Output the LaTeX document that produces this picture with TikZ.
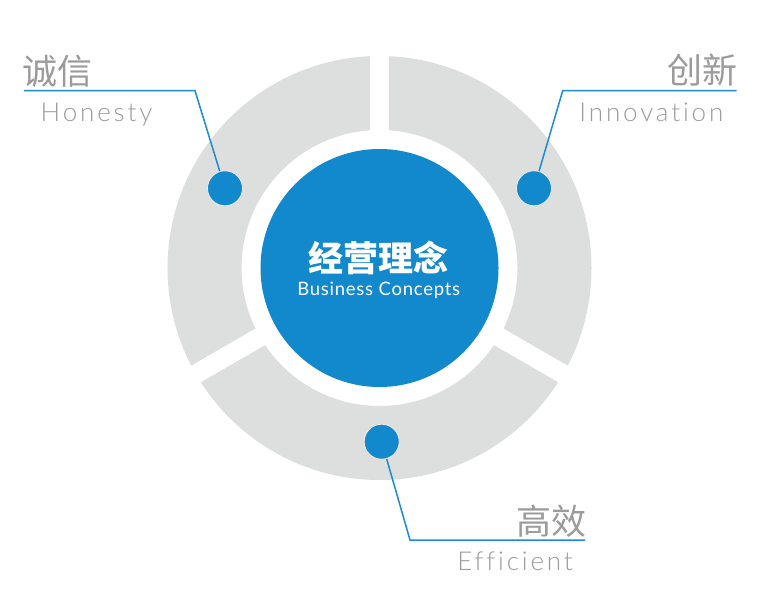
\documentclass[tikz,border=0pt]{standalone}
\usepackage{fontspec}
\newfontfamily\cjk{Noto Sans CJK SC}
\newfontfamily\latl{Lato}[UprightFont={* Light}, Ligatures=NoCommon]
\newfontfamily\latr{Lato}[Ligatures=NoCommon]
\definecolor{ringgray}{HTML}{DDDEDE}
\definecolor{cblue}{HTML}{1289CD}
\definecolor{tgray}{HTML}{9B9B9B}
\definecolor{lblue}{HTML}{1C8BD2}
\definecolor{rimc}{HTML}{F3EDE4}
\tikzset{
  dotnode/.style={circle, fill=cblue, draw=rimc, line width=0.8pt, minimum size=35pt, inner sep=0},
  conn/.style={lblue, line width=1.5pt},
  cjklabel/.style={inner sep=0, text=tgray, font=\cjk\fontsize{35}{35}\selectfont},
  enlabel/.style={inner sep=0, text=tgray, font=\latl\fontsize{26}{26}\selectfont\addfontfeatures{LetterSpace=11}},
}
\begin{document}
\begin{tikzpicture}[x=1pt,y=-1pt]
\useasboundingbox[fill=white] (0,0) rectangle (767,601);
\coordinate (c) at (379.5,268);
\fill[ringgray, even odd rule] (c) circle[radius=212pt] (c) circle[radius=138pt];
\foreach \a in {270,150,30} \draw[white, line width=19pt] (c) -- ++(\a:225);
\node[circle, fill=cblue, minimum size=238pt, inner sep=0] (core) at (c) {};
\node[inner sep=0, text=white, anchor=base, font=\cjk\bfseries\fontsize{35}{35}\selectfont] (ctitle) at (378,271) {经营理念};
\node[inner sep=0, text=white, anchor=base, font=\latr\fontsize{18.5}{18.5}\selectfont\addfontfeatures{LetterSpace=4}] (csub) at (378.8,295) {Business Concepts};
\node[dotnode] (d1) at (225,188.3) {};
\node[dotnode] (d2) at (534,188.3) {};
\node[dotnode] (d3) at (381.7,441.7) {};
\coordinate (k1) at (195,90.7);
\coordinate (e1) at (24,90.7);
\coordinate (k2) at (562.7,90.7);
\coordinate (e2) at (736.7,90.7);
\coordinate (k3) at (410,540);
\coordinate (e3) at (585,540);
\draw[conn] (d1) -- (k1) -- (e1);
\draw[conn] (d2) -- (k2) -- (e2);
\draw[conn] (d3) -- (k3) -- (e3);
\node[cjklabel, anchor=base west] (t1) at (22.5,84.2) {诚信};
\node[enlabel, anchor=base west] (s1) at (40.5,121.7) {Honesty};
\node[cjklabel, anchor=base east] (t2) at (738,83.5) {创新};
\node[enlabel, anchor=base east] (s2) at (723.5,121.7) {Innovation};
\node[cjklabel, anchor=base east] (t3) at (586.5,534.2) {高效};
\node[enlabel, anchor=base east] (s3) at (573,570) {Efficient};
\end{tikzpicture}
\end{document}
